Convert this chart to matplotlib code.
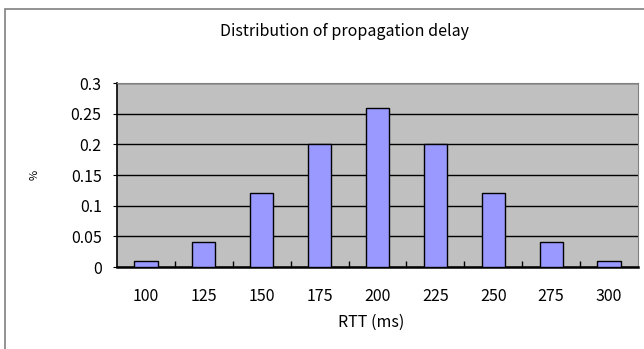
import numpy as np
import matplotlib
matplotlib.use("Agg")
import matplotlib.pyplot as plt
from matplotlib.patches import Rectangle

plt.rcParams['font.family'] = ['Noto Sans CJK JP', 'DejaVu Sans']

rtt = ['100', '125', '150', '175', '200', '225', '250', '275', '300']
share = [0.01, 0.04, 0.12, 0.20, 0.26, 0.20, 0.12, 0.04, 0.01]
yticks = [0, 0.05, 0.1, 0.15, 0.2, 0.25, 0.3]
ylabels = ['0', '0.05', '0.1', '0.15', '0.2', '0.25', '0.3']

fig = plt.figure(figsize=(6.44, 3.49), dpi=100)
W, H = 644, 349

# outer chart frame
fig.patches.append(Rectangle((5 / W, -0.1), 1.2, 1 - 9 / H + 0.1,
                             transform=fig.transFigure, fill=False,
                             edgecolor='#808080', linewidth=1.2))

ax = fig.add_axes([117 / W, 1 - 267 / H, (638 - 117) / W, (267 - 83) / H])
ax.set_facecolor('#C0C0C0')

x = np.arange(len(rtt))
ax.bar(x, share, width=0.4, color='#9999FF', edgecolor='black',
       linewidth=1.0, zorder=3)

ax.set_xlim(-0.5, len(rtt) - 0.5)
ax.set_ylim(0, 0.3)
ax.set_yticks(yticks)
ax.set_yticklabels(ylabels, fontsize=11.5)
ax.yaxis.grid(True, color='black', linewidth=1.0, zorder=1)
ax.set_axisbelow(True)

ax.set_xticks(x)
ax.set_xticklabels(rtt, fontsize=11.5)
ax.tick_params(axis='x', length=0, pad=15)
# category separators pointing up from the x axis
ax.set_xticks(np.arange(0.5, len(rtt) - 0.5), minor=True)
ax.tick_params(axis='x', which='minor', direction='in', length=4, width=1)
ax.tick_params(axis='y', direction='out', length=3, pad=8)

for side in ['top', 'right']:
    ax.spines[side].set_color('#808080')
ax.spines['left'].set_linewidth(1.2)
ax.spines['bottom'].set_linewidth(1.8)

fig.text(371 / W, 1 - 322 / H, 'RTT (ms)', fontsize=11.5,
         ha='center', va='center')
fig.text(35 / W, 1 - 175 / H, '%', rotation=90, fontsize=8,
         ha='center', va='center')
fig.text(345 / W, 1 - 32 / H, 'Distribution of propagation delay',
         fontsize=11.5, ha='center', va='center')

fig.savefig('out.png', dpi=100)
